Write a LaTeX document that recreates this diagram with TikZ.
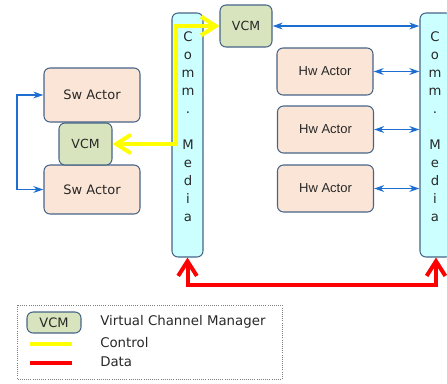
\documentclass[tikz,border=0pt]{standalone}
\usepackage{fontspec}
\setmainfont{DejaVu Sans}
\newfontfamily\hwfont{Liberation Sans}
\usetikzlibrary{arrows.meta}

\definecolor{actorfill}{RGB}{251,229,214}
\definecolor{vcmfill}{RGB}{215,228,189}
\definecolor{mediafill}{RGB}{204,255,255}
\definecolor{boxline}{RGB}{70,100,135}
\definecolor{linkblue}{RGB}{30,110,210}
\definecolor{ctrlyellow}{RGB}{255,255,0}
\definecolor{datared}{RGB}{255,0,0}
\definecolor{txtgray}{RGB}{40,40,40}

\tikzset{
  box/.style={draw=boxline, line width=0.8pt, rounded corners=4.5pt, inner sep=0pt, text=txtgray},
  actor/.style={box, fill=actorfill, minimum width=72pt, font=\fontsize{9.75}{11}\selectfont},
  hwactor/.style={actor, minimum height=35.25pt, font=\hwfont\fontsize{9.75}{11}\selectfont},
  vcm/.style={box, fill=vcmfill, minimum width=39pt, minimum height=31.5pt, font=\fontsize{9.4}{11}\selectfont},
  media/.style={box, fill=mediafill, minimum height=183pt},
  mediatext/.style={anchor=north, inner sep=0pt, align=center, text=txtgray, font=\fontsize{9.9}{13.5}\selectfont},
  link/.style={draw=linkblue, line width=1.1pt, {Stealth[open,length=7.5pt,width=5pt]}-{Stealth[open,length=7.5pt,width=5pt]}},
  ctrl/.style={draw=ctrlyellow, line width=3pt, {Straight Barb[length=11pt,width=14pt]}-{Straight Barb[length=11pt,width=14pt]}},
  data/.style={draw=datared, line width=3pt, {Straight Barb[length=11pt,width=14pt]}-{Straight Barb[length=11pt,width=14pt]}},
  legendtext/.style={anchor=west, inner sep=0pt, text=txtgray, font=\fontsize{10}{11}\selectfont}
}

\begin{document}
\begin{tikzpicture}[x=0.75pt,y=0.75pt,yscale=-1,xscale=1]
\clip (0,0) rectangle (447,383);

%Shape: Comm. Media bars
\node [media, minimum width=23.25pt] (mediaL) at (187.5,135) {};
\node [media, minimum width=24pt] (mediaR) at (436,135) {};
% Text Node
\node [mediatext] (mediaLtxt) at (188,31) {C\\o\\m\\m\\.\\[13.5pt]M\\e\\d\\i\\a};
% Text Node
\node [mediatext] (mediaRtxt) at (435,31) {C\\o\\m\\m\\.\\[13.5pt]M\\e\\d\\i\\a};

%Shape: Sw side
\node [actor, minimum height=40.5pt] (swtop) at (92,95) {Sw Actor};
\node [actor, minimum height=36.75pt] (swbot) at (92,189.5) {Sw Actor};
\node [vcm, minimum width=39.75pt] (vcmleft) at (85.5,144) {VCM};

%Shape: Hw side
\node [vcm] (vcmtop) at (246,26) {VCM};
\node [hwactor] (hwa) at (325,71.5) {Hw Actor};
\node [hwactor] (hwb) at (325.5,129.5) {Hw Actor};
\node [hwactor] (hwc) at (325.5,188.5) {Hw Actor};

%Straight Lines: blue links
\coordinate (loopx) at (17,0);
\draw [link] (swtop.west) -- (swtop.west -| loopx) -- (swbot.west -| loopx) -- (swbot.west);
\draw [link] (vcmtop.east) -- (vcmtop.east -| mediaR.west);
\draw [link] (hwa.east) -- (hwa.east -| mediaR.west);
\draw [link] (hwb.east) -- (hwb.east -| mediaR.west);
\draw [link] (hwc.east) -- (hwc.east -| mediaR.west);

%Straight Lines: control
\coordinate (ctrlx) at (176,0);
\draw [ctrl] (vcmtop.west) -- (vcmtop.west -| ctrlx) -- (vcmleft.east -| ctrlx) -- (vcmleft.east);

%Straight Lines: data
\coordinate (datay) at (0,285);
\draw [data] (mediaL.south) -- (mediaL.south |- datay) -- (mediaR.south |- datay) -- (mediaR.south);

%Shape: legend
\draw [draw=gray, densely dotted, line width=0.6pt] (17,305) rectangle (282,379);
\node [vcm, minimum width=40.5pt, minimum height=15.75pt, font=\fontsize{9.75}{11}\selectfont] (keyvcm) at (54,322.5) {VCM};
\coordinate (keyctrlA) at (30,344);
\coordinate (keyctrlB) at (72,344);
\coordinate (keydataA) at (30,363);
\coordinate (keydataB) at (72,363);
\draw [draw=ctrlyellow, line width=3pt] (keyctrlA) -- (keyctrlB);
\draw [draw=datared, line width=3pt] (keydataA) -- (keydataB);
% Text Node
\node [legendtext] (keyvcmtxt) at (100,322) {Virtual Channel Manager};
% Text Node
\node [legendtext] (keyctrltxt) at (100,343) {Control};
% Text Node
\node [legendtext] (keydatatxt) at (100,362) {Data};
\end{tikzpicture}
\end{document}
